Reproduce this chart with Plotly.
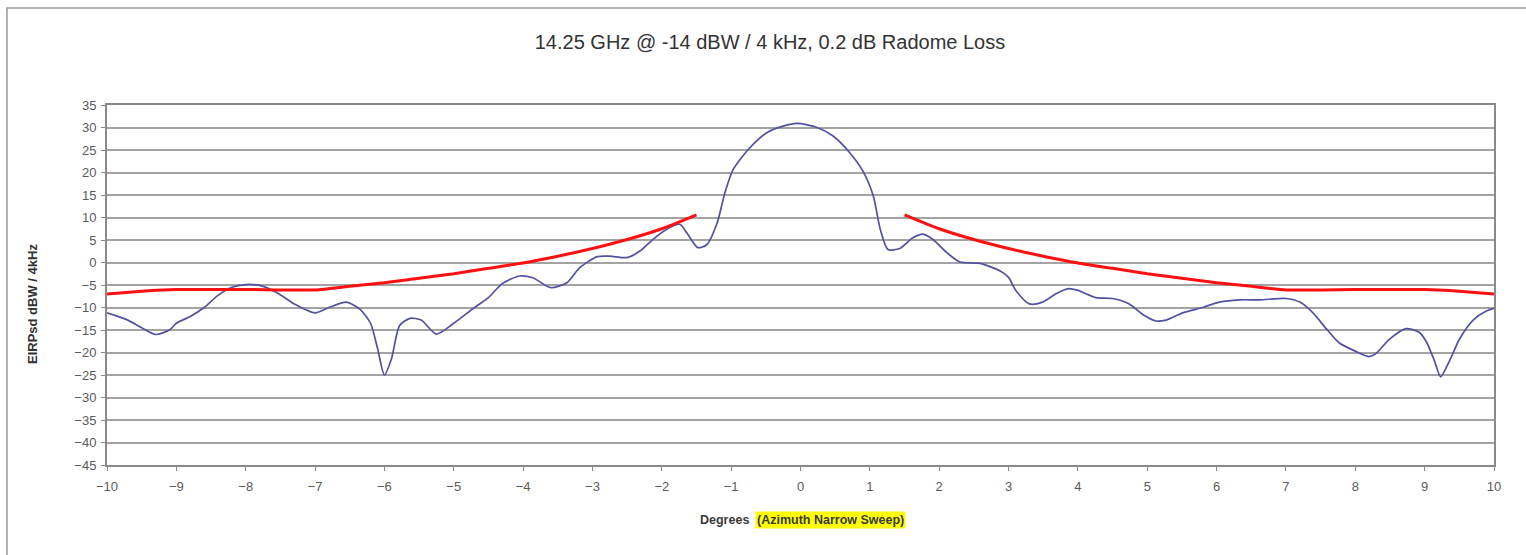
import plotly.graph_objects as go

# Measured antenna pattern (blue)
deg = [-10, -9.7, -9.5, -9.3, -9.1, -9.0, -8.8, -8.6, -8.4, -8.2, -8.0, -7.8, -7.55, -7.3, -7.0,
       -6.8, -6.55, -6.35, -6.2, -6.1, -6.0, -5.9, -5.78, -5.63, -5.47, -5.25, -5.0, -4.7, -4.5,
       -4.3, -4.05, -3.86, -3.6, -3.37, -3.18, -2.93, -2.75, -2.5, -2.31, -2.13, -1.93, -1.74,
       -1.64, -1.48, -1.35, -1.2, -1.09, -0.97, -0.73, -0.48, -0.25, -0.05, 0.24, 0.47, 0.71,
       0.9, 1.05, 1.15, 1.26, 1.43, 1.62, 1.77, 1.91, 2.11, 2.3, 2.59, 2.88, 3.0, 3.1, 3.3,
       3.49, 3.69, 3.86, 4.0, 4.26, 4.5, 4.74, 4.94, 5.13, 5.27, 5.51, 5.8, 6.04, 6.33, 6.62,
       7.0, 7.2, 7.39, 7.58, 7.77, 8.0, 8.2, 8.3, 8.49, 8.73, 8.92, 9.02, 9.14, 9.23, 9.36,
       9.5, 9.7, 9.89, 10.0]
eirp = [-11.2, -12.8, -14.5, -16.0, -15.0, -13.5, -12.0, -10.0, -7.3, -5.5, -4.9, -5.1, -6.7, -9.2, -11.2,
        -10.0, -8.8, -10.4, -13.5, -19.0, -25.0, -21.5, -14.0, -12.4, -12.8, -15.9, -13.5, -10.0, -7.8,
        -4.7, -3.0, -3.4, -5.6, -4.5, -1.1, 1.3, 1.4, 1.1, 2.6, 5.1, 7.4, 8.5,
        6.6, 3.3, 4.0, 8.9, 15.5, 20.7, 25.5, 28.9, 30.3, 30.9, 30.0, 28.1, 24.4,
        20.3, 14.8, 7.4, 2.9, 3.1, 5.5, 6.3, 5.1, 2.2, 0.1, -0.2, -1.9, -3.3, -6.1, -9.2,
        -8.8, -6.9, -5.8, -6.2, -7.8, -8.0, -9.2, -11.6, -13.0, -12.8, -11.2, -10.0, -8.8, -8.3, -8.3,
        -8.0, -8.8, -11.2, -14.7, -17.9, -19.7, -20.9, -20.2, -17.1, -14.7, -15.5, -17.5, -21.8, -25.4, -21.8,
        -17.1, -12.8, -10.8, -10.2]

# Regulatory mask (red), left and right branches
mask_left_deg = [-10, -9.5, -9.2, -9, -8, -7, -6.5, -6, -5.5, -5, -4.5, -4, -3.5, -3, -2.5, -2, -1.5]
mask_left_val = [-7.0, -6.4, -6.1, -6.0, -6.0, -6.1, -5.3, -4.5, -3.5, -2.5, -1.3, -0.1, 1.4, 3.1, 5.1, 7.5, 10.6]
mask_right_deg = [1.5, 2, 2.5, 3, 3.5, 4, 4.5, 5, 5.5, 6, 6.5, 7, 8, 9, 9.2, 9.5, 10]
mask_right_val = [10.6, 7.5, 5.1, 3.1, 1.4, -0.1, -1.3, -2.5, -3.5, -4.5, -5.3, -6.1, -6.0, -6.0, -6.1, -6.4, -7.0]

x_ticks = list(range(-10, 11))
y_ticks = list(range(-45, 36, 5))

title_text = "14.25 GHz @ -14 dBW / 4 kHz, 0.2 dB Radome Loss"
y_title = "EIRPsd dBW / 4kHz"
x_title_plain = "Degrees "
x_title_marked = "(Azimuth Narrow Sweep)"

W, H = 1526, 555
L, R, T, B = 107, 32, 105, 90
pw, ph = W - L - R, H - T - B

def px(p):
    return (p - L) / pw

def py(p):
    return (H - B - p) / ph

FONT = "Liberation Sans, Arial, sans-serif"

fig = go.Figure()
fig.add_trace(go.Scatter(x=deg, y=eirp, mode="lines",
                         line=dict(color="#5252a0", width=1.7, shape="spline", smoothing=0.7),
                         showlegend=False))
fig.add_trace(go.Scatter(x=mask_left_deg, y=mask_left_val, mode="lines",
                         line=dict(color="#ff1010", width=3, shape="spline", smoothing=0.5),
                         showlegend=False))
fig.add_trace(go.Scatter(x=mask_right_deg, y=mask_right_val, mode="lines",
                         line=dict(color="#ff1010", width=3, shape="spline", smoothing=0.5),
                         showlegend=False))

fig.update_layout(
    width=W, height=H,
    margin=dict(l=L, r=R, t=T, b=B),
    paper_bgcolor="white", plot_bgcolor="white",
    font=dict(family=FONT, color="#555555", size=13),
    title=dict(text=title_text, xref="container", x=770 / W, xanchor="center",
               yref="container", y=1 - 42 / H, yanchor="middle",
               font=dict(size=20, color="#333333", family=FONT)),
    xaxis=dict(range=[-10, 10], tickvals=x_ticks, showgrid=False, zeroline=False,
               showline=True, linecolor="#8a8a8a", linewidth=2, mirror=True,
               ticks="outside", ticklen=4, tickcolor="#8a8a8a", ticklabelstandoff=4,
               tickfont=dict(size=13, color="#5a5a5a")),
    yaxis=dict(range=[-45, 35], tickvals=y_ticks, showgrid=True, gridcolor="#a3a3a3", gridwidth=1.7,
               zeroline=False, showline=True, linecolor="#8a8a8a", linewidth=2, mirror=True,
               ticks="outside", ticklen=4, tickcolor="#8a8a8a", ticklabelstandoff=2,
               tickfont=dict(size=13, color="#5a5a5a")),
)

# outer chart border
fig.add_shape(type="rect", xref="paper", yref="paper",
              x0=px(7), x1=px(1540), y0=py(570), y1=py(8),
              line=dict(color="#9a9a9a", width=1.5), fillcolor="rgba(0,0,0,0)", layer="below")

# y axis title
fig.add_annotation(text="<b>" + y_title + "</b>", xref="paper", yref="paper", x=px(32), y=py(304),
                   xanchor="center", yanchor="middle",
                   textangle=-90, showarrow=False, font=dict(size=13, color="#333333", family=FONT))

# x axis title with highlight
split = 755
fig.add_annotation(text="<b>" + x_title_plain + "</b>", xref="paper", yref="paper", x=px(split), y=py(520),
                   xanchor="right", yanchor="middle", showarrow=False,
                   font=dict(size=12.5, color="#3a3a3a", family=FONT))
fig.add_annotation(text="<b>" + x_title_marked + "</b>", xref="paper", yref="paper", x=px(split), y=py(520),
                   xanchor="left", yanchor="middle", showarrow=False, bgcolor="#ffff00", borderpad=1,
                   font=dict(size=12.5, color="#3a3a3a", family=FONT))

fig.write_html("out.html")
